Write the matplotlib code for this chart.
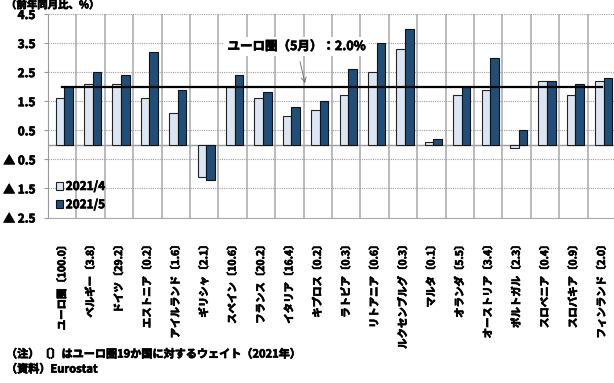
import numpy as np
import matplotlib
matplotlib.use("Agg")
import matplotlib.pyplot as plt
import matplotlib.patheffects as pe

plt.rcParams['font.family'] = ['Noto Sans CJK JP', 'DejaVu Sans']
plt.rcParams['font.weight'] = 'bold'

countries = ["ユーロ圏〔100.0〕", "ベルギー〔3.8〕", "ドイツ〔29.2〕", "エストニア〔0.2〕",
             "アイルランド〔1.6〕", "ギリシャ〔2.1〕", "スペイン〔10.6〕", "フランス〔20.2〕",
             "イタリア〔16.4〕", "キプロス〔0.2〕", "ラトビア〔0.3〕", "リトアニア〔0.6〕",
             "ルクセンブルグ〔0.3〕", "マルタ〔0.1〕", "オランダ〔5.5〕", "オーストリア〔3.4〕",
             "ポルトガル〔2.3〕", "スロベニア〔0.4〕", "スロバキア〔0.9〕", "フィンランド〔2.0〕"]
apr = [1.6, 2.1, 2.1, 1.6, 1.1, -1.1, 2.0, 1.6, 1.0, 1.2,
       1.7, 2.5, 3.3, 0.1, 1.7, 1.9, -0.1, 2.2, 1.7, 2.2]
may = [2.0, 2.5, 2.4, 3.2, 1.9, -1.2, 2.4, 1.8, 1.3, 1.5,
       2.6, 3.5, 4.0, 0.2, 2.0, 3.0, 0.5, 2.2, 2.1, 2.3]
euro_may = 2.0
yticks = [-2.5, -1.5, -0.5, 0.5, 1.5, 2.5, 3.5, 4.5]

# fake heavier weight
bold = [pe.withStroke(linewidth=0.5, foreground="black")]

fig = plt.figure(figsize=(6.14, 3.83), dpi=100)
ax = fig.add_axes([48/614, 1 - 217.5/383, 568/614, 203.5/383])

x = np.arange(len(countries))
w = 0.3
off = 0.07
ax.bar(x - w/2 + off, apr, w, color="#dce6f2", edgecolor="#222222", linewidth=0.8,
       label="2021/4", zorder=3)
ax.bar(x + w/2 + off, may, w, color="#1f4e79", edgecolor="#111111", linewidth=0.8,
       label="2021/5", zorder=3)

# euro area May reference line
ax.plot([x[0], x[-1]], [euro_may, euro_may], color="black", lw=1.6, zorder=4)

ax.set_xlim(-0.5, len(countries) - 0.5)
ax.set_ylim(-2.5, 4.5)
ax.set_yticks(yticks)
ax.set_yticklabels([f"▲ {abs(v):.1f}" if v < 0 else f"{v:.1f}" for v in yticks],
                   fontsize=8.5, fontweight="bold")
ax.yaxis.grid(True, color="#a0a0a0", linestyle=(0, (1, 1)), lw=0.8, zorder=0)
ax.axhline(0, color="#999999", lw=1.0, zorder=1)
# category separators
ax.vlines(np.arange(1, len(countries)) - 0.5, -2.5, 4.5, colors="#a8a8a8", lw=1.1, zorder=1)

ax.set_xticks(x)
ax.set_xticklabels(countries, rotation=90, fontsize=7.5, fontweight="bold")
ax.tick_params(axis="x", length=0, pad=16)
ax.tick_params(axis="y", length=3, color="#999999", pad=6)
for s in ["top", "right"]:
    ax.spines[s].set_visible(False)
ax.spines["left"].set_color("#999999")
ax.spines["bottom"].set_color("#aaaaaa")
ax.spines["bottom"].set_linestyle((0, (1, 1)))

ann = ax.annotate(f"ユーロ圏（5月）：{euro_may:.1f}%", xy=(8.55, 2.12), xytext=(8.25, 3.38),
                  ha="center", va="center", fontsize=9, fontweight="bold",
                  bbox=dict(boxstyle="square,pad=0.25", fc="white", ec="none"),
                  arrowprops=dict(arrowstyle="->", color="#666666", lw=0.6,
                                  shrinkA=4, shrinkB=0), zorder=5)

leg = ax.legend(loc="lower left", bbox_to_anchor=(0.0, -0.01), frameon=False,
                fontsize=8.5, handlelength=0.6, handleheight=0.6, handletextpad=0.2,
                labelspacing=0.45, borderaxespad=0.3)

texts = [ann] + list(leg.get_texts()) + ax.get_xticklabels() + ax.get_yticklabels()
texts.append(fig.text(6/614, 1.0, "（前年同月比、%）", fontsize=7.5, fontweight="bold", va="top"))
texts.append(fig.text(6/614, 1 - 354/383, "（注）〔〕はユーロ圏19か国に対するウェイト（2021年）",
                      fontsize=8, fontweight="bold", va="center"))
texts.append(fig.text(6/614, 1 - 369/383, "（資料）Eurostat", fontsize=8,
                      fontweight="bold", va="center"))
for t in texts:
    t.set_fontweight("bold")
    t.set_path_effects(bold)

fig.savefig("out.png", dpi=100)
